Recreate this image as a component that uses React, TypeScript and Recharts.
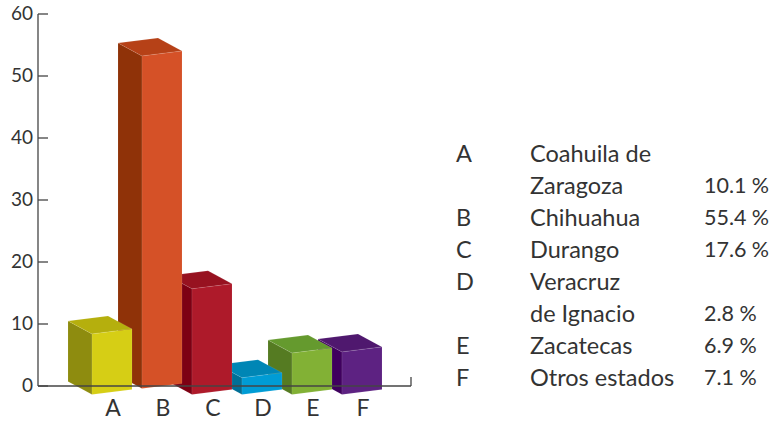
import { BarChart, Bar, XAxis, YAxis, usePlotArea } from "recharts";

const categories = ["A", "B", "C", "D", "E", "F"];
const shares = [10.1, 55.4, 17.6, 2.8, 6.9, 7.1];
const yTicks = [0, 10, 20, 30, 40, 50, 60];
const frontColors = ["#D6CE15", "#D55127", "#AE1A2A", "#009CD5", "#82B135", "#5D2282"];
const sideColors = ["#8E8C0F", "#8F3208", "#7D0013", "#006F96", "#557B22", "#3F005E"];
const topColors = ["#B5AF0D", "#B64117", "#971220", "#0086B5", "#659A2E", "#4F186E"];
const legendNames = [["Coahuila de", "Zaragoza"], ["Chihuahua"], ["Durango"], ["Veracruz", "de Ignacio"], ["Zacatecas"], ["Otros estados"]];

// painted back to front: F first, A last, the axis is reversed to compensate
const data = categories.map((name, i) => ({ name, value: shares[i] })).reverse();

const FONT = "Lato, sans-serif";
const TEXT = "#333333";
const AXIS = "#444444";
const DEPTH_X = 24;
const DEPTH_Y = 13;
const SLANT = 5;
// the boxes are drawn a bit shorter than the printed axis
const BOX_SCALE = 0.968;

const Box3D = (props: any) => {
  const { x, y, width, height, payload } = props;
  const i = categories.indexOf(payload.name);
  // the boxes sit below the axis line, B a little further back
  const drop = payload.name === "B" ? 2.5 : 8.5;
  const l = x - 1;
  const r = l + width;
  const bottom = y + height + drop;
  const top = bottom - height * BOX_SCALE;
  const edge = { stroke: "#ffffff", strokeOpacity: 0.15, strokeWidth: 0.6 };
  return (
    <g>
      <polygon
        points={`${l},${bottom} ${l - DEPTH_X},${bottom - DEPTH_Y} ${l - DEPTH_X},${top - DEPTH_Y} ${l},${top}`}
        fill={sideColors[i]}
        {...edge}
      />
      <polygon
        points={`${l},${top} ${l - DEPTH_X},${top - DEPTH_Y} ${r - DEPTH_X},${top - DEPTH_Y - SLANT} ${r},${top - SLANT}`}
        fill={topColors[i]}
        {...edge}
      />
      <polygon
        points={`${l},${bottom} ${r},${bottom - SLANT} ${r},${top - SLANT} ${l},${top}`}
        fill={frontColors[i]}
        {...edge}
      />
    </g>
  );
};

// x arrives 8px left of the axis line, ticks point into the plot
const YTick = ({ x, y, payload }: any) => (
  <g>
    <line x1={x + 8} x2={x + 18} y1={y} y2={y} stroke={AXIS} strokeWidth={1.3} />
    <text x={x + 3} y={y + 6} textAnchor="end" fontFamily={FONT} fontSize={19} fill={TEXT}>
      {payload.value}
    </text>
  </g>
);

const AxisStops = () => {
  const area = usePlotArea();
  if (!area) return null;
  const end = area.x + area.width;
  const base = area.y + area.height;
  return <line x1={end} x2={end} y1={base - 9} y2={base} stroke={AXIS} strokeWidth={1.3} />;
};

const rows: { letter: string; text: string; pct: string }[] = [];
categories.forEach((letter, i) => {
  legendNames[i].forEach((text, j) => {
    const last = j === legendNames[i].length - 1;
    rows.push({ letter: j === 0 ? letter : "", text, pct: last ? `${shares[i]}\u202F%` : "" });
  });
});

export default function App() {
  return (
    <div style={{ position: "absolute", left: 0, top: 0, width: 772, height: 421, background: "#fff" }}>
      <BarChart width={420} height={421} data={data} margin={{ top: 14, right: 9, bottom: 0, left: 0 }} barSize={40}>
        <XAxis
          dataKey="name"
          reversed
          height={35}
          padding={{ left: 50, right: 23 }}
          axisLine={{ stroke: AXIS, strokeWidth: 1.3 }}
          tickLine={false}
          tick={{ fill: TEXT, fontFamily: FONT, fontSize: 23 }}
          tickMargin={8}
          interval={0}
        />
        <YAxis
          width={38}
          domain={[0, 60]}
          ticks={yTicks}
          interval={0}
          axisLine={{ stroke: AXIS, strokeWidth: 1.3 }}
          tickLine={false}
          tick={<YTick />}
        />
        <AxisStops />
        <Bar dataKey="value" shape={<Box3D />} isAnimationActive={false} />
      </BarChart>
      <div style={{ position: "absolute", left: 456, top: 137, fontFamily: FONT, fontSize: 23.5, color: TEXT, lineHeight: "32px" }}>
        {rows.map((row, i) => (
          <div key={i} style={{ position: "relative", height: 32, width: 316, whiteSpace: "nowrap" }}>
            <span style={{ position: "absolute", left: 0 }}>{row.letter}</span>
            <span style={{ position: "absolute", left: 74 }}>{row.text}</span>
            <span style={{ position: "absolute", left: 248, fontSize: 21.5 }}>{row.pct}</span>
          </div>
        ))}
      </div>
    </div>
  );
}
